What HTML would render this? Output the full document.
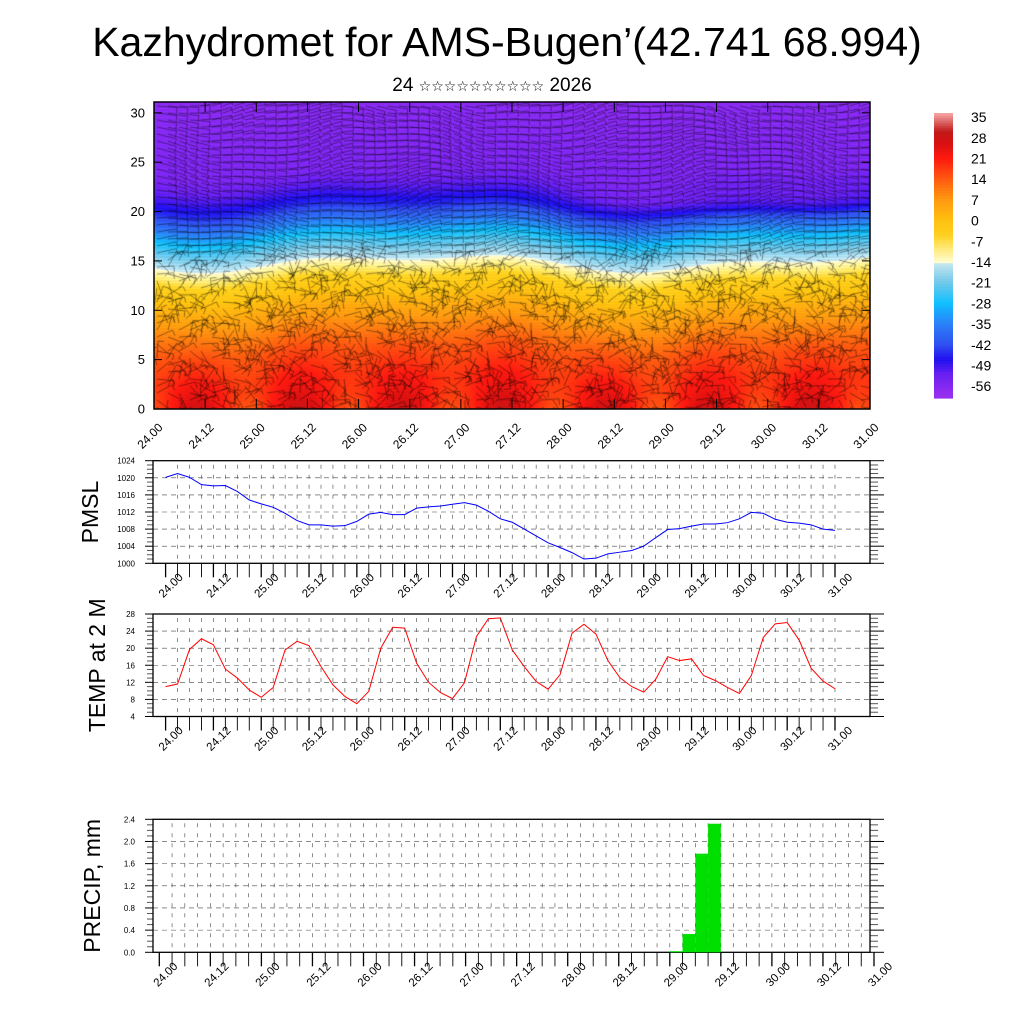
<!DOCTYPE html>
<html><head><meta charset="utf-8">
<style>
html,body{margin:0;padding:0;background:#fff;}
#root{position:relative;width:1024px;height:1024px;overflow:hidden;font-family:"Liberation Sans",sans-serif;}
canvas{position:absolute;}
svg{position:absolute;left:0;top:0;}
</style></head>
<body>
<div id="root">
<canvas id="field" width="716" height="307" style="left:154px;top:102px"></canvas>
<svg id="svg" width="1024" height="1024">
<text x="507" y="56" text-anchor="middle" font-size="41" fill="#000">Kazhydromet for AMS-Bugen’(42.741 68.994)</text>
<text x="492" y="91" text-anchor="middle" font-size="19" fill="#000" font-family="Liberation Sans, DejaVu Sans, sans-serif">24 <tspan font-size="14">☆☆☆☆☆☆☆☆☆☆</tspan> 2026</text>
</svg>
</div>
<script>
// ---- data ----
const xLabels = ["24.00","24.12","25.00","25.12","26.00","26.12","27.00","27.12","28.00","28.12","29.00","29.12","30.00","30.12","31.00"];
const pmslValues = [1020.1,1021.0,1020.1,1018.4,1018.1,1018.2,1016.8,1014.8,1013.9,1013.1,1011.7,1010.0,1009.0,1009.0,1008.7,1008.8,1009.8,1011.5,1011.9,1011.4,1011.4,1012.9,1013.2,1013.4,1013.8,1014.2,1013.6,1012.2,1010.4,1009.6,1008.0,1006.4,1004.8,1003.7,1002.5,1001.0,1001.2,1002.2,1002.6,1003.0,1004.0,1006.0,1007.9,1008.1,1008.7,1009.2,1009.2,1009.5,1010.4,1011.9,1011.7,1010.3,1009.6,1009.4,1009.0,1008.0,1007.7];
const tempValues = [11.0,11.6,19.7,22.2,20.8,15.1,13.0,10.2,8.5,10.8,19.6,21.6,20.6,15.7,11.4,8.7,7.0,9.9,20.0,24.9,24.7,16.5,12.0,9.6,8.2,11.9,22.7,26.9,27.1,19.6,15.7,12.2,10.4,13.8,23.5,25.6,23.3,17.1,13.1,11.0,9.7,12.7,18.0,17.1,17.5,13.6,12.4,10.8,9.4,13.6,22.5,25.7,26.0,21.9,15.3,12.3,10.5];
const precipIndex = [40,41,42,43];
const precipValues = [0.02,0.33,1.78,2.32];
const pmslTicks = [1000,1004,1008,1012,1016,1020,1024];
const tempTicks = [4,8,12,16,20,24,28];
const precipTicks = ["0.0","0.4","0.8","1.2","1.6","2.0","2.4"];
const heightTicks = [0,5,10,15,20,25,30];
const cbarLabels = [35,28,21,14,7,0,-7,-14,-21,-28,-35,-42,-49,-56];
const profileH = [0,3,6,10,13,14.3,15.2,17,19,20.5,22,24,31.2];
const profileT = [22,20,15,5,-4,-11,-16,-25,-37,-45,-50,-55,-57];

const NS="http://www.w3.org/2000/svg";
const svg=document.getElementById('svg');
function mk(tag,attrs,parent){const e=document.createElementNS(NS,tag);for(const k in attrs)e.setAttribute(k,attrs[k]);(parent||svg).appendChild(e);return e;}

// ---- colormap ----
const cmV=[-60,-52,-47,-42,-35,-28,-21,-14.5,-14,-9,-5,0,7,14,21,26,30,36];
const cmC=["#9b30f0","#6a20f0","#2010f0","#3050f0","#2a80f8","#10c0ff","#70c8ea","#c8e6f0","#fffbd0","#ffe870","#ffd020","#ffc010","#ff9a10","#ff5a10","#ff1a10","#d81010","#c01818","#f4a0a0"];
function hex(c){return [parseInt(c.substr(1,2),16),parseInt(c.substr(3,2),16),parseInt(c.substr(5,2),16)];}
const cmRGB=cmC.map(hex);
function cmap(v){if(v<=cmV[0])return cmRGB[0];for(let i=1;i<cmV.length;i++){if(v<=cmV[i]){const f=(v-cmV[i-1])/(cmV[i]-cmV[i-1]);const a=cmRGB[i-1],b=cmRGB[i];return [a[0]+(b[0]-a[0])*f,a[1]+(b[1]-a[1])*f,a[2]+(b[2]-a[2])*f];}}return cmRGB[cmRGB.length-1];}
function interp(xs,ys,x){if(x<=xs[0])return ys[0];for(let i=1;i<xs.length;i++)if(x<=xs[i]){const f=(x-xs[i-1])/(xs[i]-xs[i-1]);return ys[i-1]+(ys[i]-ys[i-1])*f;}return ys[ys.length-1];}

// ---- top field ----
const TX0=154,TX1=870,TY0=102,TY1=409,HMAX=31.1;
const tH=h=>TY1-(h/HMAX)*(TY1-TY0);
const tX=d=>TX0+d/7*(TX1-TX0);
(function(){
 const cv=document.getElementById('field');const ctx=cv.getContext('2d');
 const W=716,H=307;const img=ctx.createImageData(W,H);
 for(let py=0;py<H;py++){for(let px=0;px<W;px++){
  const t=px/W*7;const h=(H-py)/H*HMAX;
  const hh=h+0.7*Math.sin(t*1.4+1)+0.4*Math.sin(t*3.1);
  let T=interp(profileH,profileT,hh);
  T+=7*Math.exp(-h/2.8)*Math.cos(2*Math.PI*(t-0.42));
  const w=1/(1+Math.exp(-(t-4.3)*3));
  T-=4*w*Math.exp(-Math.pow((h-21)/1.5,2));
  const c=cmap(T);const k=(py*W+px)*4;
  const s=(py%3===0)?1.06:1;
  img.data[k]=Math.min(255,c[0]*s);img.data[k+1]=Math.min(255,c[1]*s);img.data[k+2]=Math.min(255,c[2]*s);img.data[k+3]=255;}}
 ctx.putImageData(img,0,0);
 ctx.strokeStyle="rgba(0,0,0,0.6)";ctx.lineWidth=0.7;
 for(let gy=4;gy<H;gy+=7){for(let gx=3;gx<W;gx+=11){
  const t=gx/W*7,h=(H-gy)/H*HMAX;
  let a;
  if(h>15.5)a=0.25*Math.sin(t*2+h*0.3)+0.15*Math.sin(gx*0.07);
  else a=1.3*Math.sin(t*5.7+h*0.4)*Math.cos(h*0.7+t)+0.9*Math.sin(gx*0.13+gy*0.21);
  const L=h>15.5?20:17;
  const dx=Math.cos(a)*L,dy=Math.sin(a)*L;
  ctx.beginPath();ctx.moveTo(gx,gy);ctx.lineTo(gx+dx,gy+dy);
  const bx=gx+dx,by=gy+dy;ctx.moveTo(bx,by);ctx.lineTo(bx-Math.sin(a)*6,by+Math.cos(a)*6);
  ctx.stroke();}}
})();
mk('rect',{x:TX0,y:TY0,width:TX1-TX0,height:TY1-TY0,fill:'none',stroke:'#000','stroke-width':1.5,});
heightTicks.forEach(v=>{const y=tH(v);
 const t=mk('text',{x:145,y:y+4.5,'text-anchor':'end','font-size':13});t.textContent=v;
 
 mk('line',{x1:TX0,x2:TX0+8,y1:y,y2:y,stroke:'#000'});mk('line',{x1:TX1-8,x2:TX1,y1:y,y2:y,stroke:'#000'});});
xLabels.forEach((s,i)=>{const x=tX(i/2);
 mk('line',{x1:x,x2:x,y1:TY1,y2:TY1-10,stroke:'#000'});mk('line',{x1:x,x2:x,y1:TY0,y2:TY0+10,stroke:'#000'});
 const t=mk('text',{x:x-4,y:440,'text-anchor':'middle','font-size':12,transform:`rotate(-45 ${x-4} 436)`});t.textContent=s;
 });
// colorbar
(function(){const y0=113,y1=398,vTop=36.4,vBot=-60;const n=110;
 for(let i=0;i<n;i++){const v=vTop-(i+0.5)/n*(vTop-vBot);const c=cmap(v);
  const r=mk('rect',{x:934,y:y0+i*(y1-y0)/n,width:19,height:(y1-y0)/n+0.6,fill:`rgb(${c.map(Math.round).join(',')})`});
  }
 cbarLabels.forEach(v=>{const y=y0+(vTop-v)/(vTop-vBot)*(y1-y0);
  const t=mk('text',{x:971,y:y+5,'font-size':14});t.textContent=v;
  });})();

// ---- generic line/bar panel ----
function panel(o){
 const X0=153,X1=870;
 const xs=i=>o.xa+i*(o.xb-o.xa)/56;
 const ys=v=>o.y1-(v-o.vmin)/(o.vmax-o.vmin)*(o.y1-o.y0);
 const g=mk('g',{});
 for(let i=1;i<=56;i++){const x=xs(i);if(x>=X1-1)continue;
  mk('line',{x1:x,x2:x,y1:o.y0+4,y2:o.y1-2,stroke:'#444','stroke-width':0.6,'stroke-dasharray':'4 6'},g);}
 o.ticks.forEach((s,k)=>{const v=o.tickVals[k];const y=ys(v);
  if(k>0&&k<o.ticks.length-1)mk('line',{x1:X0,x2:X1,y1:y,y2:y,stroke:'#444','stroke-width':0.6,'stroke-dasharray':'5 4'},g);
  mk('line',{x1:X0-8,x2:X0,y1:y,y2:y,stroke:'#000'},g);mk('line',{x1:X1,x2:X1+14,y1:y,y2:y,stroke:'#000'},g);
  const t=mk('text',{x:X0-18,y:y+3,'text-anchor':'end','font-size':8},g);t.textContent=s;
  
  if(k<o.ticks.length-1){const nv=o.tickVals[k+1];for(let m=1;m<o.minor;m++){const yy=ys(v+(nv-v)*m/o.minor);
   mk('line',{x1:X0-6,x2:X0,y1:yy,y2:yy,stroke:'#555'},g);mk('line',{x1:X1,x2:X1+8,y1:yy,y2:yy,stroke:'#555'},g);}}});
 mk('rect',{x:X0,y:o.y0,width:X1-X0,height:o.y1-o.y0,fill:'none',stroke:'#000','stroke-width':1.3},g);
 for(let i=0;i<=56;i++){const x=xs(i);mk('line',{x1:x,x2:x,y1:o.y1,y2:o.y1+14,stroke:'#000','stroke-width':i%4===0?1.3:0.9},g);}
 xLabels.forEach((s,k)=>{const x=xs(k*4)+o.lo,y=o.y1+26;
  const t=mk('text',{x:x,y:y,'text-anchor':'middle','font-size':11.5,transform:`rotate(-45 ${x} ${y-4})`},g);t.textContent=s;
  });
 const yt=mk('text',{x:0,y:0,'text-anchor':'middle','font-size':23,transform:`translate(${o.tx},${(o.y0+o.y1)/2}) rotate(-90)`},g);
 yt.textContent=o.title;
 return {xs,ys,g};
}
const P=panel({name:'pmsl',xa:165.6,xb:835,y0:460.7,y1:563.3,vmin:1000,vmax:1024,ticks:pmslTicks.map(String),tickVals:pmslTicks,minor:4,lo:5,title:'PMSL',tx:98});
const pl=mk('polyline',{points:pmslValues.map((v,i)=>P.xs(i)+','+P.ys(v)).join(' '),fill:'none',stroke:'#0000ff','stroke-width':1},P.g);

const T=panel({name:'temp',xa:165.6,xb:835,y0:614,y1:716.5,vmin:4,vmax:28,ticks:tempTicks.map(String),tickVals:tempTicks,minor:4,lo:5,title:'TEMP at 2 M',tx:105});
const tl=mk('polyline',{points:tempValues.map((v,i)=>T.xs(i)+','+T.ys(v)).join(' '),fill:'none',stroke:'#ff0000','stroke-width':1},T.g);

const R=panel({name:'precip',xa:159.3,xb:874,y0:819.3,y1:952.3,vmin:0,vmax:2.4,ticks:precipTicks,tickVals:precipTicks.map(Number),minor:4,lo:6,title:'PRECIP, mm',tx:100});
precipIndex.forEach((idx,k)=>{const x0=R.xs(idx),x1=R.xs(idx+1),y=R.ys(precipValues[k]);
 const b=mk('rect',{x:x0,y:y,width:x1-x0,height:R.ys(0)-y,fill:'#00e000'},R.g);
 });
</script>
</body></html>
